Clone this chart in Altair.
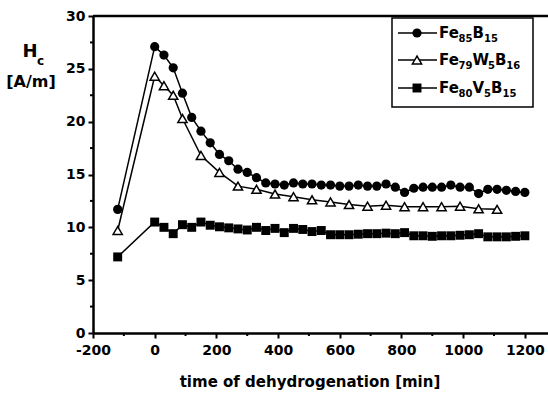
import altair as alt
import pandas as pd

# ---- data ----
x_fe85 = [-120, 0, 30, 60, 90, 120, 150, 180, 210, 240, 270, 300, 330, 360, 390, 420,
          450, 480, 510, 540, 570, 600, 630, 660, 690, 720, 750, 780, 810, 840, 870,
          900, 930, 960, 990, 1020, 1050, 1080, 1110, 1140, 1170, 1200]
y_fe85 = [11.7, 27.1, 26.3, 25.1, 22.7, 20.4, 19.1, 18.0, 16.9, 16.3, 15.5, 15.2, 14.7, 14.2,
          14.1, 14.0, 14.2, 14.1, 14.1, 14.0, 14.0, 13.9, 13.9, 14.0, 13.9, 13.9, 14.1, 13.8,
          13.3, 13.7, 13.8, 13.8, 13.8, 14.0, 13.8, 13.8, 13.2, 13.6, 13.6, 13.5, 13.4, 13.3]

x_few = [-120, 0, 30, 60, 90, 150, 210, 270, 330, 390, 450, 510, 570, 630, 690, 750, 810,
         870, 930, 990, 1050, 1110]
y_few = [9.7, 24.3, 23.4, 22.5, 20.3, 16.8, 15.2, 13.9, 13.6, 13.15, 12.9, 12.6, 12.4, 12.15,
         12.0, 12.1, 11.95, 11.95, 11.95, 12.0, 11.75, 11.7]

x_fev = [-120, 0, 30, 60, 90, 120, 150, 180, 210, 240, 270, 300, 330, 360, 390, 420,
         450, 480, 510, 540, 570, 600, 630, 660, 690, 720, 750, 780, 810, 840, 870,
         900, 930, 960, 990, 1020, 1050, 1080, 1110, 1140, 1170, 1200]
y_fev = [7.2, 10.5, 10.0, 9.4, 10.25, 10.0, 10.5, 10.2, 10.05, 9.95, 9.85, 9.75, 10.0, 9.7,
         9.9, 9.5, 9.9, 9.8, 9.6, 9.7, 9.3, 9.3, 9.3, 9.35, 9.4, 9.4, 9.45, 9.4, 9.5, 9.2,
         9.2, 9.15, 9.2, 9.2, 9.25, 9.3, 9.4, 9.1, 9.1, 9.1, 9.15, 9.2]

# legend labels as (text, is_subscript) pieces
series_labels = [
    [("Fe", False), ("85", True), ("B", False), ("15", True)],
    [("Fe", False), ("79", True), ("W", False), ("5", True), ("B", False), ("16", True)],
    [("Fe", False), ("80", True), ("V", False), ("5", True), ("B", False), ("15", True)],
]
x_ticks = [-200, 0, 200, 400, 600, 800, 1000, 1200]
x_minor = [-100, 100, 300, 500, 700, 900, 1100]
y_ticks = [0, 5, 10, 15, 20, 25, 30]
y_minor = [2.5, 7.5, 12.5, 17.5, 22.5, 27.5]

W, H = 455, 317
FONT = "DejaVu Sans"

df85 = pd.DataFrame({"t": x_fe85, "hc": y_fe85})
dfw = pd.DataFrame({"t": x_few, "hc": y_few})
dfv = pd.DataFrame({"t": x_fev, "hc": y_fev})

xs = alt.Scale(domain=[-200, 1275], nice=False, zero=False)
ys = alt.Scale(domain=[0, 30], nice=False, zero=False)

xax = alt.Axis(values=x_ticks, title=None, grid=False, domainColor="black", domainWidth=2.5,
               tickColor="black", tickWidth=2, tickSize=5, labelFont=FONT, labelFontWeight="bold",
               labelFontSize=14, labelColor="black", labelPadding=5, labelFlush=False,
               labelExpr="'' + datum.value")
yax = alt.Axis(values=y_ticks, title=None, grid=False, domainColor="black", domainWidth=2.5,
               tickColor="black", tickWidth=2, tickSize=5, labelFont=FONT, labelFontWeight="bold",
               labelFontSize=14, labelColor="black", labelPadding=3,
               labelExpr="'' + datum.value")

X = alt.X("t:Q", scale=xs, axis=xax)
Y = alt.Y("hc:Q", scale=ys, axis=yax)


def series(df, shape, filled, size):
    line = alt.Chart(df).mark_line(color="black", strokeWidth=1.5).encode(x=X, y=Y)
    pts = alt.Chart(df).mark_point(shape=shape, filled=True, size=size,
                                   fill="black" if filled else "white",
                                   stroke="black", strokeWidth=1.5 if not filled else 0,
                                   opacity=1).encode(x=X, y=Y)
    return [line, pts]


layers = []
layers += series(dfv, "square", True, 80)
layers += series(dfw, "triangle-up", False, 85)
layers += series(df85, "circle", True, 85)

one = pd.DataFrame({"a": [0]})

# minor ticks
mx = alt.Chart(pd.DataFrame({"t": x_minor})).mark_rule(color="black", strokeWidth=2).encode(
    x=alt.X("t:Q", scale=xs), y=alt.value(H), y2=alt.value(H + 3))
my = alt.Chart(pd.DataFrame({"hc": y_minor})).mark_rule(color="black", strokeWidth=2).encode(
    y=alt.Y("hc:Q", scale=ys), x=alt.value(-3), x2=alt.value(0))
# top frame line
top = alt.Chart(one).mark_rule(color="black", strokeWidth=2.5).encode(
    x=alt.value(0), x2=alt.value(W), y=alt.value(0))

# legend
lg_box = alt.Chart(one).mark_rect(fill="white", stroke="black", strokeWidth=1.5).encode(
    x=alt.value(299), x2=alt.value(440), y=alt.value(2), y2=alt.value(91))
leg_rows = [17, 44, 72]
leg_layers = [lg_box]
shapes = [("circle", True, 85), ("triangle-up", False, 85), ("square", True, 80)]
BASE, SUB = 15, 10
# approximate DejaVu Sans Bold advance widths (em)
adv = {"F": 0.630, "e": 0.678, "B": 0.760, "W": 1.025, "V": 0.772}
for i, (pieces, (shp, fl, sz)) in enumerate(zip(series_labels, shapes)):
    yy = leg_rows[i]
    leg_layers.append(alt.Chart(one).mark_rule(color="black", strokeWidth=1.5).encode(
        x=alt.value(305), x2=alt.value(344), y=alt.value(yy)))
    leg_layers.append(alt.Chart(one).mark_point(
        shape=shp, filled=True, size=sz, fill="black" if fl else "white", stroke="black",
        strokeWidth=0 if fl else 1.5, opacity=1).encode(x=alt.value(324), y=alt.value(yy)))
    cx = 346.0
    for txt, sub in pieces:
        fs = SUB if sub else BASE
        leg_layers.append(alt.Chart(one).mark_text(
            text=txt, align="left", baseline="alphabetic", font=FONT, fontWeight="bold",
            fontSize=fs, color="black").encode(
                x=alt.value(cx), y=alt.value(yy + 5 + (4 if sub else 0))))
        if sub:
            cx += 0.696 * fs * len(txt)
        else:
            cx += sum(adv[c] for c in txt) * fs

# axis titles
ttl = alt.Chart(one).mark_text(
    text="time of dehydrogenation [min]", font=FONT, fontWeight="bold", fontSize=15,
    color="black", align="center", baseline="middle").encode(x=alt.value(217), y=alt.value(366))
yt1 = alt.Chart(one).mark_text(
    text="H", font=FONT, fontWeight="bold", fontSize=18, color="black", align="center",
    baseline="middle").encode(x=alt.value(-63), y=alt.value(36))
yt2 = alt.Chart(one).mark_text(
    text="c", font=FONT, fontWeight="bold", fontSize=12, color="black", align="left",
    baseline="middle").encode(x=alt.value(-56), y=alt.value(45))
yt3 = alt.Chart(one).mark_text(
    text="[A/m]", font=FONT, fontWeight="bold", fontSize=16, color="black", align="center",
    baseline="middle").encode(x=alt.value(-62), y=alt.value(66))

chart = alt.layer(*layers, mx, my, top, *leg_layers, ttl, yt1, yt2, yt3).properties(
    width=W, height=H,
    autosize=alt.AutoSizeParams(type="none"),
    padding={"left": 93, "top": 16, "right": 0, "bottom": 64},
    background="white",
).configure_view(stroke=None)

chart.save("out.html", embed_options={"renderer": "svg", "actions": False})
